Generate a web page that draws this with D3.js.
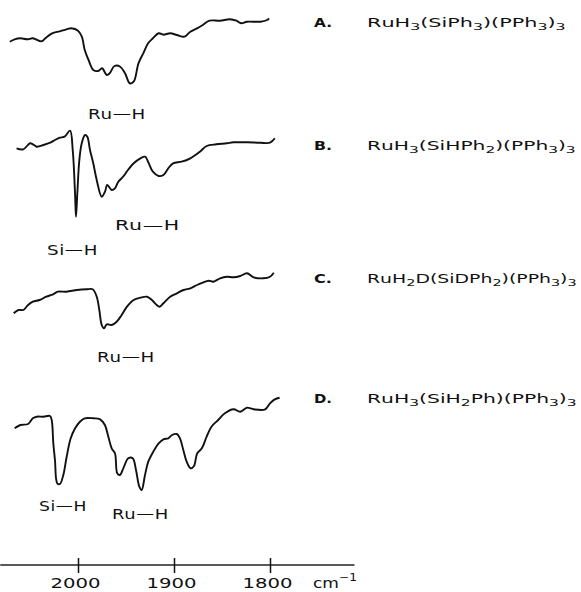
<!DOCTYPE html>
<html>
<head>
<meta charset="utf-8">
<title>IR spectra Ru-H / Si-H</title>
<script src="https://d3js.org/d3.v7.min.js"></script>
<style>
  body { margin: 0; background: #fff; }
  text { font-family: "DejaVu Sans", sans-serif; fill: #111; }
</style>
</head>
<body>
<div id="chart"></div>
<script>
// spectra: [wavenumber cm-1, transmittance (arbitrary, 0-100 per trace)]
const specA = [[2071,58.3],[2066,60.7],[2060,61.7],[2053,60.7],[2047,61.7],[2038,58.7],[2034,61.7],
  [2027,66.7],[2019,68.7],[2012,70.7],[2007,71.7],[2000,69.3],[1996,63.3],[1993,50],[1989,40],
  [1984,30],[1979,29],[1975,31.7],[1970,25],[1967,26.7],[1962,34],[1956,33.3],[1951,26.7],
  [1946,16.7],[1942,18.3],[1937,36.7],[1932,46.7],[1927,56.7],[1922,61.7],[1916,66.7],[1911,65.3],
  [1904,66.7],[1897,65],[1889,63.3],[1883,68.3],[1876,71.7],[1870,75],[1863,79.3],[1852,79.3],
  [1842,80.7],[1835,79.3],[1830,76.7],[1824,78.3],[1810,78.3],[1803,80],[1801,81.7]];

const specB = [[2064,71.7],[2057,70.7],[2050,76.7],[2047,75.7],[2043,73.3],[2036,75],[2029,77.3],
  [2024,80],[2019,82.3],[2014,83.3],[2008.3,89.3],[2005.5,70],[2003.1,26.7],[2002.1,3.3],
  [2000.7,26.7],[1998.6,60],[1996.1,76.7],[1992.7,85],[1990.3,83.3],[1987.5,70],[1984.1,56.7],
  [1980.5,40],[1975.3,23.3],[1971.9,28.3],[1969.5,35],[1964.9,30],[1961.5,31.7],[1958,38.3],
  [1953,43.3],[1948,50],[1942,56.7],[1935,61.7],[1930,63.3],[1927,58.3],[1922,48.3],[1916,44],
  [1911,45],[1906,51.7],[1901,56.7],[1892,58.3],[1883,61.7],[1873,68.3],[1866,74],[1856,75.7],
  [1845,76.7],[1838,77.7],[1824,77.7],[1810,77.3],[1800,77.3],[1795,81.7]];

const specC = [[2067,26.7],[2062,30],[2057,30],[2052,35],[2047,38.3],[2040,40],[2033,43.3],
  [2026,45.7],[2021,48.3],[2012,48.3],[2001,50],[1991,50.7],[1984.7,50.7],[1980.5,43.3],
  [1977.8,30],[1975.3,15],[1972.9,11.7],[1970.1,15.7],[1964.9,15],[1959.7,18.3],[1954.5,25],
  [1949,33.3],[1942,40],[1935,42.3],[1928,43.3],[1923,40],[1918,35],[1915,33.3],[1911,36.7],
  [1904,43.3],[1897,46.7],[1890,50],[1883,51.7],[1876,55],[1870,57.3],[1864,59.3],[1859,58.3],
  [1852,61.7],[1845,63.3],[1838,62.7],[1831,64],[1824,66.7],[1817,62.7],[1807,61.7],[1800,63.3],
  [1796,67.3]];

const specD = [[2066,71.7],[2060,75],[2052,76],[2047,81.7],[2043,83.3],[2036,83.3],[2029.2,84],
  [2027.4,80],[2025.7,56.7],[2024,40],[2021.6,16.7],[2018.8,16],[2015.3,25],[2011.8,43.3],
  [2007.6,61.7],[2003,71.7],[1998,78.3],[1993,81.7],[1984,81.7],[1977,80.7],[1972,75],
  [1968.4,63.3],[1964.9,51.7],[1961.5,46.7],[1959.1,26.7],[1956.3,25],[1952.8,31.7],[1947.6,41.7],
  [1943,41.7],[1939.6,30],[1936.1,13.3],[1933.7,10],[1930.2,25],[1926.8,38.3],[1921.6,48.3],
  [1916,56.7],[1911,60.7],[1906,61.7],[1902,65],[1897,66],[1893.8,61.7],[1890.3,50],[1886.8,38.3],
  [1882.6,31.7],[1879.2,34],[1875.8,46.7],[1871,51.7],[1866,63.3],[1861,73.3],[1854,80],
  [1847,86.7],[1838,90.7],[1831,88.3],[1824,92.3],[1817,90.7],[1805,90.7],[1800,96.7],
  [1795,100.7],[1790,102.3]];

const spectra = [specA, specB, specC, specD];
const letters = ["A.", "B.", "C.", "D."];
const formulas = ["RuH3(SiPh3)(PPh3)3", "RuH3(SiHPh2)(PPh3)3", "RuH2D(SiDPh2)(PPh3)3", "RuH3(SiH2Ph)(PPh3)3"];
const tickValues = [2000, 1900, 1800];
const unitLabel = "cm";

// layout
const width = 581, height = 592;
const offsets = [0, 120, 240, 400];          // vertical shift of each trace
const labelBase = [27, 150, 283, 403];       // baselines of the right-hand captions
const formulaW = [198, 208, 209, 209];
const bandLabels = [                          // [text, left, right, baseline]
  ["Ru—H", 88, 146, 119],
  ["Ru—H", 115, 180, 230],
  ["Si—H", 47, 98, 255],
  ["Ru—H", 97, 155, 362],
  ["Si—H", 39, 87, 511],
  ["Ru—H", 112, 169, 519]
];

const svg = d3.select("#chart").append("svg")
  .attr("width", width).attr("height", height);

const x = d3.scaleLinear().domain([2000, 1800]).range([78, 270]);
const y = d3.scaleLinear().domain([0, 100]).range([100, 0]);

const line = d3.line()
  .x(d => x(d[0]))
  .y(d => y(d[1]))
  .curve(d3.curveCatmullRom.alpha(0.5));

spectra.forEach((s, i) => {
  svg.append("g")
    .attr("transform", `translate(0,${offsets[i]})`)
    .append("path")
    .datum(s)
    .attr("fill", "none")
    .attr("stroke", "#111")
    .attr("stroke-width", 1.9)
    .attr("stroke-linejoin", "round")
    .attr("d", line);
});

// the printed lettering is a wide face: stretch glyphs horizontally to the measured width
function placeWide(t, left, baseline, w) {
  const len = t.node().getComputedTextLength();
  t.attr("x", 0).attr("y", 0)
    .attr("transform", `translate(${left},${baseline}) scale(${(w / len).toFixed(3)},1)`);
}

bandLabels.forEach(b => {
  const t = svg.append("text")
    .attr("font-size", 14.5)
    .attr("letter-spacing", 0.5)
    .text(b[0]);
  placeWide(t, b[1], b[3], b[2] - b[1]);
});

// captions on the right
formulas.forEach((f, i) => {
  const l = svg.append("text")
    .attr("font-size", 12.5)
    .attr("font-weight", "bold")
    .text(letters[i]);
  placeWide(l, 314, labelBase[i], 18);

  const t = svg.append("text")
    .attr("font-size", 12.5);
  let sub = false;
  for (const ch of f) {
    const isDigit = /[0-9]/.test(ch);
    const ts = t.append("tspan").text(ch);
    if (isDigit) ts.attr("font-size", 9.5);
    if (isDigit && !sub) { ts.attr("dy", 3); sub = true; }
    else if (!isDigit && sub) { ts.attr("dy", -3); sub = false; }
  }
  placeWide(t, 367, labelBase[i], formulaW[i]);
});

// wavenumber axis
const axisG = svg.append("g")
  .attr("transform", "translate(0,565)");

axisG.append("line")
  .attr("x1", x(2081)).attr("x2", x(1712))
  .attr("stroke", "#222").attr("stroke-width", 1.3);

const axis = d3.axisBottom(x).tickValues(tickValues).tickSize(8).tickPadding(5).tickFormat(d3.format("d"));
axisG.call(axis);
axisG.select(".domain").remove();
axisG.selectAll(".tick line").attr("y1", -7).attr("stroke", "#111").attr("stroke-width", 1.5);
axisG.selectAll(".tick text")
  .attr("font-family", "DejaVu Sans, sans-serif")
  .attr("font-size", 14)
  .attr("fill", "#111")
  .attr("dy", "0.71em")
  .attr("text-anchor", "middle");
axisG.selectAll(".tick text").each(function() {
  const len = this.getComputedTextLength();
  d3.select(this).attr("transform", `translate(-3,0) scale(${(50 / len).toFixed(3)},1)`);
});

const unit = svg.append("text")
  .attr("font-size", 14);
unit.append("tspan").text(unitLabel);
unit.append("tspan").attr("dy", -7).attr("font-size", 10).text("−1");
placeWide(unit, 313, 588, 44);
</script>
</body>
</html>
